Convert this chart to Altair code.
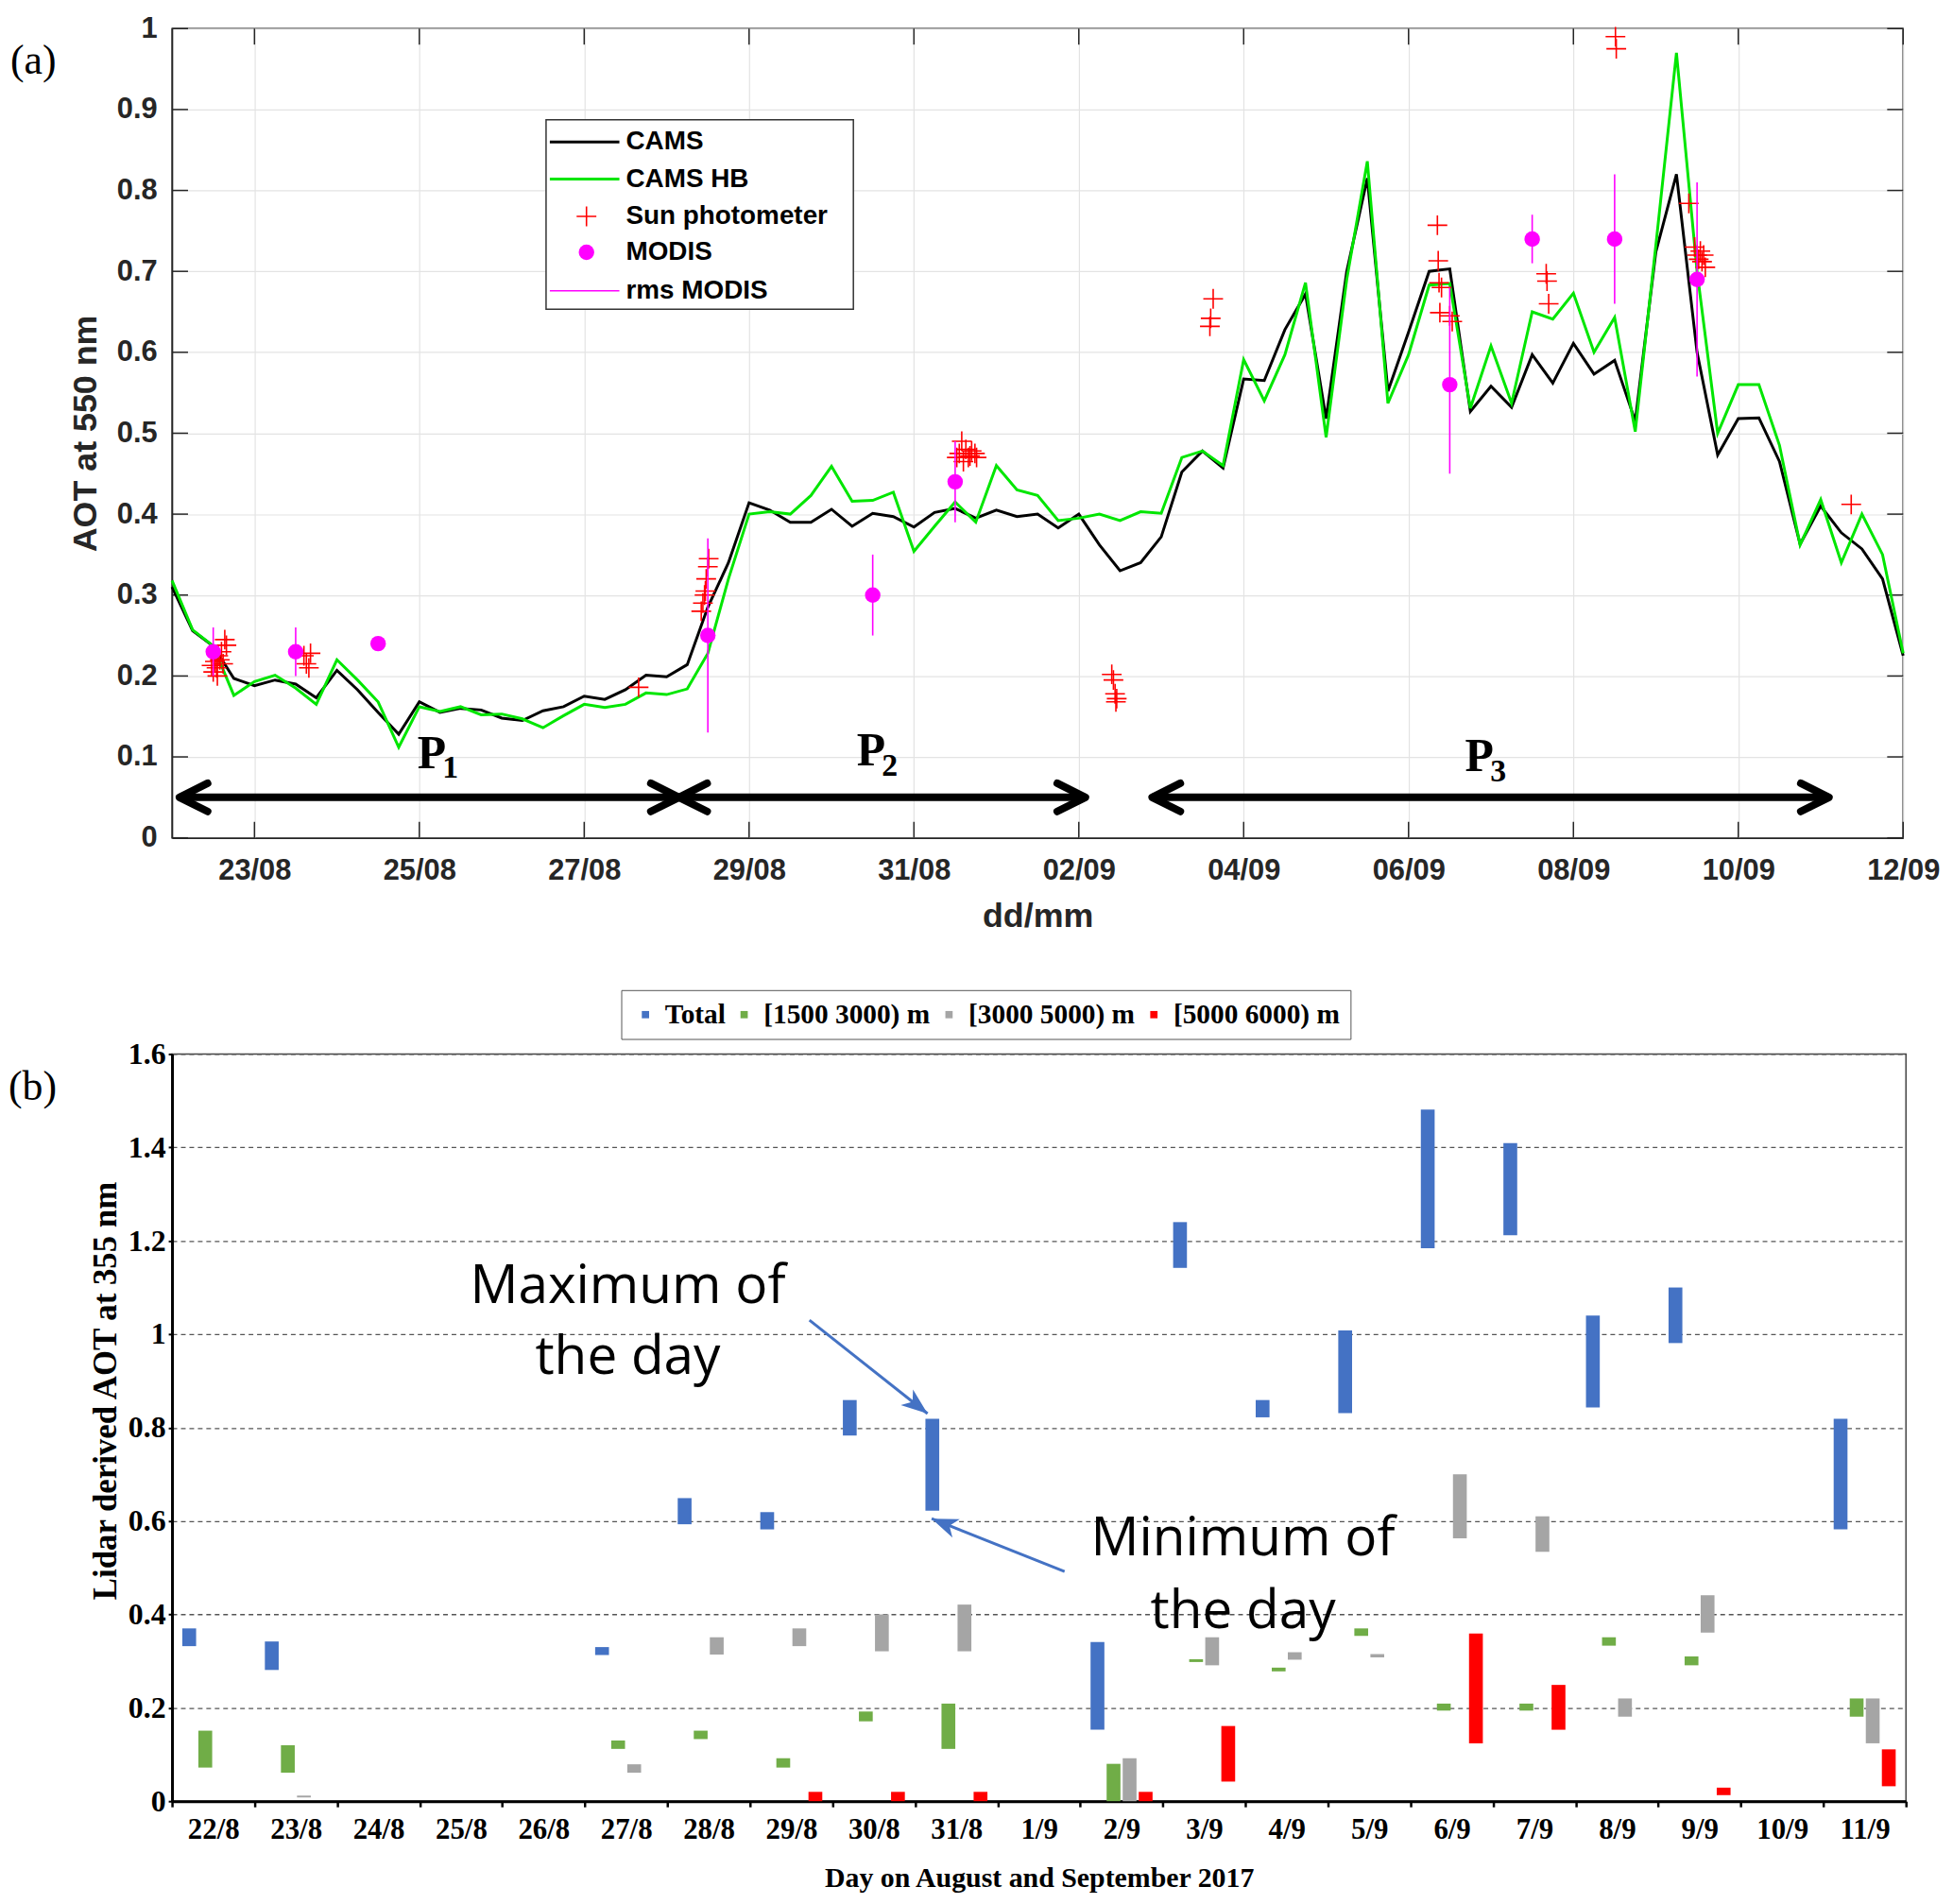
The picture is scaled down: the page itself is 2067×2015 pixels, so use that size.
import math
import altair as alt
import pandas as pd

# ======================= Panel (a) data =======================
STEP_DAYS = 0.25  # CAMS output every 6 h from 22/08 00:00
CAMS = [0.310, 0.256, 0.237, 0.197, 0.188, 0.195, 0.190, 0.173, 0.207, 0.183,
        0.155, 0.128, 0.168, 0.155, 0.160, 0.158, 0.148, 0.145, 0.157, 0.162,
        0.175, 0.171, 0.183, 0.201, 0.199, 0.214, 0.285, 0.340, 0.414, 0.405,
        0.390, 0.390, 0.406, 0.385, 0.401, 0.397, 0.384, 0.402, 0.407, 0.395,
        0.405, 0.397, 0.400, 0.383, 0.400, 0.362, 0.330, 0.340, 0.372, 0.452,
        0.478, 0.457, 0.567, 0.565, 0.628, 0.672, 0.518, 0.700, 0.815, 0.552,
        0.625, 0.700, 0.703, 0.527, 0.558, 0.532, 0.597, 0.562, 0.611, 0.573,
        0.590, 0.515, 0.724, 0.820, 0.600, 0.473, 0.518, 0.519, 0.465, 0.363,
        0.410, 0.377, 0.357, 0.320, 0.225]
CAMS_HB = [0.318, 0.257, 0.237, 0.176, 0.193, 0.201, 0.185, 0.165, 0.220, 0.195,
           0.168, 0.112, 0.162, 0.156, 0.162, 0.152, 0.153, 0.147, 0.136, 0.151,
           0.165, 0.161, 0.165, 0.179, 0.177, 0.184, 0.228, 0.320, 0.400, 0.403,
           0.400, 0.423, 0.459, 0.416, 0.417, 0.427, 0.354, 0.385, 0.415, 0.390,
           0.460, 0.430, 0.423, 0.392, 0.395, 0.400, 0.392, 0.403, 0.401, 0.470,
           0.478, 0.460, 0.591, 0.540, 0.597, 0.686, 0.495, 0.690, 0.836, 0.537,
           0.597, 0.683, 0.685, 0.531, 0.608, 0.537, 0.650, 0.641, 0.673, 0.600,
           0.643, 0.502, 0.732, 0.970, 0.700, 0.500, 0.560, 0.560, 0.485, 0.362,
           0.418, 0.340, 0.400, 0.350, 0.228]

# Sun photometer (days since 22/08 00:00, AOT)
SUN_DAY = [0.48, 0.50, 0.52, 0.54, 0.55, 0.56, 0.58, 0.60, 0.62, 0.64, 0.66,
           1.60, 1.63, 1.66, 1.68,
           5.66,
           6.42, 6.44, 6.46, 6.47, 6.48, 6.50, 6.51,
           9.52, 9.55, 9.58, 9.60, 9.63, 9.66, 9.68, 9.70, 9.74, 9.76,
           11.40, 11.42, 11.44, 11.45, 11.46,
           12.59, 12.60, 12.63,
           15.35, 15.36, 15.37, 15.38, 15.40, 15.50, 15.53,
           16.67, 16.68, 16.70,
           17.51, 17.52,
           18.40, 18.47, 18.50, 18.52, 18.54, 18.56, 18.58, 18.60,
           20.37]
SUN_AOT = [0.213, 0.205, 0.218, 0.210, 0.200, 0.225, 0.220, 0.230, 0.215, 0.245, 0.238,
           0.225, 0.215, 0.210, 0.228,
           0.186,
           0.280, 0.290, 0.300, 0.305, 0.320, 0.335, 0.345,
           0.470, 0.475, 0.490, 0.465, 0.480, 0.470, 0.472, 0.478, 0.475, 0.470,
           0.202, 0.195, 0.178, 0.168, 0.172,
           0.632, 0.642, 0.666,
           0.757, 0.713, 0.686, 0.649, 0.680, 0.645, 0.638,
           0.697, 0.688, 0.660,
           0.990, 0.975,
           0.784, 0.730, 0.720, 0.715, 0.725, 0.712, 0.720, 0.705,
           0.412]

MODIS_DAY = [0.5, 1.5, 2.5, 6.5, 8.5, 9.5, 15.5, 16.5, 17.5, 18.5]
MODIS_AOT = [0.23, 0.23, 0.24, 0.25, 0.30, 0.44, 0.56, 0.74, 0.74, 0.69]
MODIS_LO = [0.20, 0.20, 0.24, 0.13, 0.25, 0.39, 0.45, 0.71, 0.66, 0.57]
MODIS_HI = [0.26, 0.26, 0.24, 0.37, 0.35, 0.49, 0.68, 0.77, 0.82, 0.81]

TOP_TICK_POS = [1, 3, 5, 7, 9, 11, 13, 15, 17, 19, 21]
TOP_TICK_LABELS = ["23/08", "25/08", "27/08", "29/08", "31/08", "02/09",
                   "04/09", "06/09", "08/09", "10/09", "12/09"]
TOP_Y_TICKS = [0.0, 0.1, 0.2, 0.3, 0.4, 0.5, 0.6, 0.7, 0.8, 0.9, 1.0]

PERIOD_SUB = ["1", "2", "3"]
PERIOD_START = [0.09, 6.15, 11.89]
PERIOD_END = [6.15, 11.08, 20.10]
PERIOD_LABEL_DAY = [3.15, 8.48, 15.86]
PERIOD_LABEL_Y = [0.104, 0.107, 0.100]
ARROW_LEVEL = 0.05

LEGEND_A = ["CAMS", "CAMS HB", "Sun photometer", "MODIS", "rms MODIS"]

# ======================= Panel (b) data =======================
DAYS_B = ["22/8", "23/8", "24/8", "25/8", "26/8", "27/8", "28/8", "29/8", "30/8",
          "31/8", "1/9", "2/9", "3/9", "4/9", "5/9", "6/9", "7/9", "8/9", "9/9",
          "10/9", "11/9"]
SERIES = ["Total", "[1500 3000) m", "[3000 5000) m", "[5000 6000) m"]
SERIES_COLORS = ["#4472C4", "#70AD47", "#A5A5A5", "#FF0000"]
BOTTOM_Y_TICKS = [0.0, 0.2, 0.4, 0.6, 0.8, 1.0, 1.2, 1.4, 1.6]

TOTAL_DAYS = ["22/8", "23/8", "27/8", "28/8", "29/8", "30/8", "31/8", "2/9", "3/9",
              "4/9", "5/9", "6/9", "7/9", "8/9", "9/9", "11/9"]
TOTAL_MIN = [0.332, 0.281, 0.313, 0.593, 0.582, 0.783, 0.622, 0.153, 1.142,
             0.822, 0.831, 1.184, 1.212, 0.843, 0.981, 0.582]
TOTAL_MAX = [0.370, 0.342, 0.330, 0.649, 0.619, 0.859, 0.819, 0.341, 1.240,
             0.859, 1.008, 1.481, 1.409, 1.040, 1.100, 0.819]

L1_DAYS = ["22/8", "23/8", "27/8", "28/8", "29/8", "30/8", "31/8", "2/9", "3/9",
           "4/9", "5/9", "6/9", "7/9", "8/9", "9/9", "11/9"]
L1_MIN = [0.072, 0.061, 0.112, 0.133, 0.072, 0.171, 0.112, 0.000, 0.298,
          0.278, 0.354, 0.194, 0.194, 0.333, 0.291, 0.181]
L1_MAX = [0.151, 0.120, 0.130, 0.151, 0.092, 0.192, 0.209, 0.080, 0.304,
          0.286, 0.370, 0.209, 0.209, 0.351, 0.310, 0.220]

L2_DAYS = ["23/8", "27/8", "28/8", "29/8", "30/8", "31/8", "2/9", "3/9", "4/9",
           "5/9", "6/9", "7/9", "8/9", "9/9", "11/9"]
L2_MIN = [0.008, 0.061, 0.314, 0.332, 0.321, 0.321, 0.000, 0.291, 0.303,
          0.308, 0.563, 0.534, 0.181, 0.361, 0.124]
L2_MAX = [0.012, 0.079, 0.351, 0.370, 0.400, 0.421, 0.092, 0.351, 0.319,
          0.315, 0.700, 0.610, 0.220, 0.441, 0.220]

L3_DAYS = ["29/8", "30/8", "31/8", "2/9", "3/9", "6/9", "7/9", "9/9", "11/9"]
L3_MIN = [0.000, 0.000, 0.000, 0.000, 0.042, 0.124, 0.153, 0.013, 0.032]
L3_MAX = [0.020, 0.020, 0.020, 0.020, 0.161, 0.359, 0.249, 0.029, 0.111]

ANNOT_TEXT = ["Maximum of", "the day", "Minimum of", "the day"]
ANNOT_X = [5.52, 5.52, 12.97, 12.97]      # in day-category units
ANNOT_Y = [1.100, 0.950, 0.560, 0.405]
ARROW_X0 = [7.72, 10.81]
ARROW_Y0 = [1.030, 0.492]
ARROW_X1 = [9.15, 9.20]
ARROW_Y1 = [0.830, 0.605]

# ======================= sizes / styles =======================
W1, H1 = 1842, 861
W2, H2 = 1845, 795
SANS = "Liberation Sans"
SERIF = "Liberation Serif"
FRAME = "#262626"
GREEN = "#00e600"
MAGENTA = "#ff00ff"
CROSS = "M-1,0L1,0M0,-1L0,1"
CHEV_LEFT = "M2,-1L0,0L2,1"
CHEV_RIGHT = "M-2,-1L0,0L-2,1"
STEALTH = "M0,0L-2,-0.75L-1.45,0L-2,0.75Z"
TICK_LEN = 17
ONE = pd.DataFrame({"k": [0]})

# ----------------------- Panel (a) -----------------------
n = len(CAMS)
cams_df = pd.DataFrame({"day": [i * STEP_DAYS for i in range(n)], "v": CAMS})
hb_df = pd.DataFrame({"day": [i * STEP_DAYS for i in range(n)], "v": CAMS_HB})
sun_df = pd.DataFrame({"day": SUN_DAY, "v": SUN_AOT})
modis_df = pd.DataFrame({"day": MODIS_DAY, "v": MODIS_AOT, "lo": MODIS_LO, "hi": MODIS_HI})
per_df = pd.DataFrame({"sub": PERIOD_SUB, "x0": PERIOD_START, "x1": PERIOD_END,
                       "lx": PERIOD_LABEL_DAY, "ly": PERIOD_LABEL_Y,
                       "y": [ARROW_LEVEL] * 3})
xt_df = pd.DataFrame({"day": TOP_TICK_POS})
yt_df = pd.DataFrame({"v": TOP_Y_TICKS})

labels_js = "[" + ",".join("'%s'" % s for s in TOP_TICK_LABELS) + "]"
xs_a = alt.Scale(domain=[0, 21], nice=False, zero=False)
ys_a = alt.Scale(domain=[0, 1], nice=False, zero=True)
x_axis_a = alt.Axis(values=TOP_TICK_POS, labelExpr=labels_js + "[round((datum.value - 1) / 2)]",
                    title="dd/mm", grid=True, gridColor="#e3e3e3", gridWidth=1.2,
                    ticks=False, domainColor=FRAME, domainWidth=1.5,
                    labelFont=SANS, labelFontWeight="bold", labelFontSize=31,
                    labelColor=FRAME, labelPadding=20, labelFlush=False,
                    titleFont=SANS, titleFontWeight="bold", titleFontSize=36,
                    titleColor=FRAME, titlePadding=16)
y_axis_a = alt.Axis(values=TOP_Y_TICKS, format=".1~f",
                    title="AOT at 550 nm", grid=True, gridColor="#e3e3e3", gridWidth=1.2,
                    ticks=False, domainColor=FRAME, domainWidth=1.5,
                    labelFont=SANS, labelFontWeight="bold", labelFontSize=31,
                    labelColor=FRAME, labelPadding=16,
                    titleFont=SANS, titleFontWeight="bold", titleFontSize=36,
                    titleColor=FRAME, titlePadding=14)

X = lambda f="day": alt.X(f + ":Q", scale=xs_a, axis=x_axis_a)
Y = lambda f="v": alt.Y(f + ":Q", scale=ys_a, axis=y_axis_a)

# inward MATLAB-style ticks on all four sides of the box
tick_b = alt.Chart(xt_df).mark_rule(color=FRAME, strokeWidth=1.5).encode(
    x=X(), y=alt.value(H1), y2=alt.value(H1 - TICK_LEN))
tick_t = alt.Chart(xt_df).mark_rule(color=FRAME, strokeWidth=1.5).encode(
    x=X(), y=alt.value(0), y2=alt.value(TICK_LEN))
tick_l = alt.Chart(yt_df).mark_rule(color=FRAME, strokeWidth=1.5).encode(
    y=Y(), x=alt.value(0), x2=alt.value(TICK_LEN))
tick_r = alt.Chart(yt_df).mark_rule(color=FRAME, strokeWidth=1.5).encode(
    y=Y(), x=alt.value(W1), x2=alt.value(W1 - TICK_LEN))

cams_line = alt.Chart(cams_df).mark_line(color="black", strokeWidth=3).encode(x=X(), y=Y())
hb_line = alt.Chart(hb_df).mark_line(color=GREEN, strokeWidth=3).encode(x=X(), y=Y())
sun_pts = alt.Chart(sun_df).mark_point(shape=CROSS, size=441, color="red", filled=False,
                                       strokeWidth=1.6, opacity=1).encode(x=X(), y=Y())
rms = alt.Chart(modis_df).mark_rule(color=MAGENTA, strokeWidth=1.6).encode(
    x=X(), y=Y("lo"), y2="hi:Q")
modis_pts = alt.Chart(modis_df).mark_point(shape="circle", size=272, color=MAGENTA,
                                           filled=True, opacity=1).encode(x=X(), y=Y())

per_line = alt.Chart(per_df).mark_rule(color="black", strokeWidth=8).encode(
    x=X("x0"), x2="x1:Q", y=Y("y"))
per_left = alt.Chart(per_df).mark_point(shape=CHEV_LEFT, size=900, color="black", filled=False,
                                        strokeWidth=8, strokeCap="round", strokeJoin="round",
                                        opacity=1).encode(x=X("x0"), y=Y("y"))
per_right = alt.Chart(per_df).mark_point(shape=CHEV_RIGHT, size=900, color="black", filled=False,
                                         strokeWidth=8, strokeCap="round", strokeJoin="round",
                                         opacity=1).encode(x=X("x1"), y=Y("y"))
per_p = alt.Chart(per_df).mark_text(text="P", font=SERIF, fontWeight="bold", fontSize=50,
                                    align="center", baseline="middle", color="black").encode(
    x=X("lx"), y=Y("ly"))
per_sub = alt.Chart(per_df).mark_text(font=SERIF, fontWeight="bold", fontSize=34, dx=20, dy=16,
                                      align="center", baseline="middle", color="black").encode(
    x=X("lx"), y=Y("ly"), text="sub:N")

# manual legend of panel (a) (pixel positions inside the plot area)
LG_ROWS = [120.7, 160.2, 199.8, 238.0, 278.9]
lg_box = alt.Chart(ONE).mark_rect(fill="white", stroke="#333333", strokeWidth=1.5).encode(
    x=alt.value(398), x2=alt.value(725), y=alt.value(97), y2=alt.value(298.6))
lg_cams = alt.Chart(ONE).mark_rule(color="black", strokeWidth=3).encode(
    x=alt.value(402), x2=alt.value(476), y=alt.value(LG_ROWS[0]))
lg_hb = alt.Chart(ONE).mark_rule(color=GREEN, strokeWidth=3).encode(
    x=alt.value(402), x2=alt.value(476), y=alt.value(LG_ROWS[1]))
lg_sun = alt.Chart(ONE).mark_point(shape=CROSS, size=441, color="red", filled=False,
                                   strokeWidth=1.6, opacity=1).encode(
    x=alt.value(441), y=alt.value(LG_ROWS[2]))
lg_modis = alt.Chart(ONE).mark_point(shape="circle", size=272, color=MAGENTA, filled=True,
                                     opacity=1).encode(x=alt.value(441), y=alt.value(LG_ROWS[3]))
lg_rms = alt.Chart(ONE).mark_rule(color=MAGENTA, strokeWidth=1.6).encode(
    x=alt.value(402), x2=alt.value(476), y=alt.value(LG_ROWS[4]))
lg_texts = [alt.Chart(ONE).mark_text(text=t, font=SANS, fontWeight="bold", fontSize=28,
                                     align="left", baseline="middle", color="black").encode(
    x=alt.value(483), y=alt.value(yy)) for t, yy in zip(LEGEND_A, LG_ROWS)]

tag_a = alt.Chart(ONE).mark_text(text="(a)", font=SERIF, fontSize=44, align="left",
                                 baseline="middle", color="black").encode(
    x=alt.value(-172), y=alt.value(35))

top = alt.layer(tick_b, tick_t, tick_l, tick_r,
                cams_line, hb_line, sun_pts, rms, modis_pts,
                per_line, per_left, per_right, per_p, per_sub,
                lg_box, lg_cams, lg_hb, lg_sun, lg_modis, lg_rms, *lg_texts, tag_a).properties(
    width=W1, height=H1,
    view=alt.ViewBackground(stroke=FRAME, strokeWidth=1.5))

# ----------------------- Panel (b) -----------------------
rows = []
for s, days, lo, hi in zip(SERIES, [TOTAL_DAYS, L1_DAYS, L2_DAYS, L3_DAYS],
                           [TOTAL_MIN, L1_MIN, L2_MIN, L3_MIN],
                           [TOTAL_MAX, L1_MAX, L2_MAX, L3_MAX]):
    for d, a, b in zip(days, lo, hi):
        rows.append({"day": d, "series": s, "lo": a, "hi": b})
bars_df = pd.DataFrame(rows)

ys_b = alt.Scale(domain=[0, 1.6], nice=False, zero=True)
x_axis_b = alt.Axis(title="Day on August and September 2017", tickBand="extent", labelAngle=0,
                    ticks=True, tickColor="black", tickSize=6, tickWidth=2.5,
                    domainColor="black", domainWidth=3, grid=False,
                    labelFont=SERIF, labelFontWeight="bold", labelFontSize=31,
                    labelColor="black", labelPadding=10,
                    titleFont=SERIF, titleFontWeight="bold", titleFontSize=30,
                    titleColor="black", titlePadding=21)
y_axis_b = alt.Axis(values=BOTTOM_Y_TICKS, format=".1~f",
                    title="Lidar derived AOT at 355 nm", grid=True, gridColor="#555555",
                    gridDash=[5, 4], gridWidth=1.3, domainColor="black", domainWidth=3,
                    ticks=True, tickColor="black", tickSize=4, tickWidth=2,
                    labelFont=SERIF, labelFontWeight="bold", labelFontSize=32,
                    labelColor="black", labelPadding=3,
                    titleFont=SERIF, titleFontWeight="bold", titleFontSize=35,
                    titleColor="black", titlePadding=6, titleY=358)
YB = lambda f: alt.Y(f + ":Q", scale=ys_b, axis=y_axis_b)

bars = alt.Chart(bars_df).mark_bar().encode(
    x=alt.X("day:N", scale=alt.Scale(domain=DAYS_B, paddingInner=0, paddingOuter=0),
            axis=x_axis_b),
    xOffset=alt.XOffset("series:N", scale=alt.Scale(domain=SERIES, paddingInner=0.14,
                                                    paddingOuter=0.64)),
    y=YB("lo"),
    y2="hi:Q",
    color=alt.Color("series:N", scale=alt.Scale(domain=SERIES, range=SERIES_COLORS),
                    legend=alt.Legend(orient="none", legendX=478, legendY=1023,
                                      direction="horizontal", title=None,
                                      symbolType="square", symbolSize=60,
                                      symbolStrokeWidth=0, labelFont=SERIF,
                                      labelFontWeight="bold", labelFontSize=29.5,
                                      labelColor="black", labelLimit=500,
                                      strokeColor="#555555",
                                      fillColor="white", padding=11, columnPadding=5,
                                      labelOffset=6)),
)

xs_q = alt.Scale(domain=[0, len(DAYS_B)], nice=False, zero=False)
ann_df = pd.DataFrame({"t": ANNOT_TEXT, "x": ANNOT_X, "y": ANNOT_Y})
px_per_x = W2 / len(DAYS_B)
px_per_y = H2 / 1.6
arr_df = pd.DataFrame({"x0": ARROW_X0, "y0": ARROW_Y0, "x1": ARROW_X1, "y1": ARROW_Y1})
arr_df["ang"] = [
    (math.degrees(math.atan2(-(b1 - b0) * px_per_y, (a1 - a0) * px_per_x)) + 360) % 360
    for a0, b0, a1, b1 in zip(ARROW_X0, ARROW_Y0, ARROW_X1, ARROW_Y1)]

ann_text = alt.Chart(ann_df).mark_text(font="Open Sans", fontSize=57, align="center",
                                       baseline="middle", color="black").encode(
    x=alt.X("x:Q", scale=xs_q, axis=None), y=YB("y"), text="t:N")
arr_line = alt.Chart(arr_df).mark_rule(color="#4472C4", strokeWidth=3).encode(
    x=alt.X("x0:Q", scale=xs_q, axis=None), x2="x1:Q", y=YB("y0"), y2="y1:Q")
arr_head = alt.Chart(arr_df).mark_point(shape=STEALTH, size=784, color="#4472C4", filled=True,
                                        opacity=1).encode(
    x=alt.X("x1:Q", scale=xs_q, axis=None), y=YB("y1"),
    angle=alt.Angle("ang:Q", scale=None))

tag_b = alt.Chart(ONE).mark_text(text="(b)", font=SERIF, fontSize=44, align="left",
                                  baseline="middle", color="black").encode(
    x=alt.value(-174), y=alt.value(36))

bottom = alt.layer(bars, ann_text, arr_line, arr_head, tag_b).resolve_scale(
    x="independent").properties(
    width=W2, height=H2, view=alt.ViewBackground(stroke="#444444", strokeWidth=1.5))

chart = alt.concat(top, bottom, columns=1, spacing=111).properties(
    padding={"left": 0, "top": 0, "right": 5, "bottom": 5},
    background="white")

chart.save("out.html", embed_options={"renderer": "svg", "actions": False})
